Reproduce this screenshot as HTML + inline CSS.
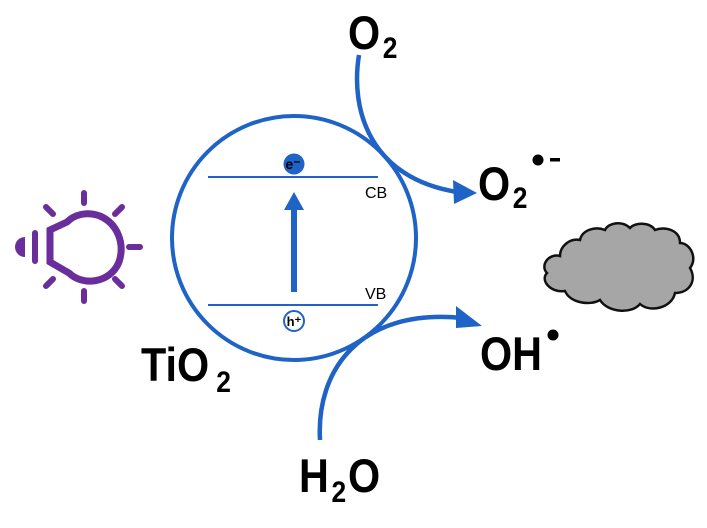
<!DOCTYPE html>
<html><head><meta charset="utf-8"><style>html,body{margin:0;padding:0;background:#fff}svg{display:block}</style></head>
<body>
<svg width="707" height="528" viewBox="0 0 707 528" xmlns="http://www.w3.org/2000/svg" font-family="Liberation Sans, sans-serif">
<!-- bulb -->
<g stroke="#6a2e9c" stroke-width="6" stroke-linecap="round" fill="none">
<path d="M50,230 L50,262 L69,273 C82,286 110,284 119,262 C125,244 118,224 100,216 C86,211 74,215 67,222 Z" stroke-width="7"/>
<line x1="84" y1="193" x2="84" y2="203"/>
<line x1="84" y1="291" x2="84" y2="301"/>
<line x1="46" y1="207" x2="53" y2="214"/>
<line x1="115" y1="214" x2="122" y2="207"/>
<line x1="46" y1="286" x2="53" y2="279"/>
<line x1="115" y1="279" x2="122" y2="286"/>
<line x1="129" y1="247" x2="140" y2="247"/>
<line x1="35" y1="233" x2="35" y2="261"/>
</g>
<path d="M25,237 A10,10 0 0 0 25,257 Z" fill="#6a2e9c"/>
<!-- cloud -->
<path transform="translate(0,8)" d="M560,248 C548,245 540,258 547,265 C540,272 550,285 565,283 C570,295 590,298 600,292 C608,305 632,306 640,296 C650,305 672,300 675,285 C690,285 697,272 690,260 C698,250 690,235 680,235 C680,222 665,218 655,222 C650,214 635,214 630,220 C622,212 608,215 605,222 C595,218 582,222 580,232 C570,230 560,238 560,248 Z" fill="#a6a6a6" stroke="#111" stroke-width="2.5"/>
<!-- main circle -->
<circle cx="294" cy="238" r="122" fill="none" stroke="#1f63c6" stroke-width="4"/>
<line x1="208" y1="177" x2="378" y2="177" stroke="#1f63c6" stroke-width="2"/>
<line x1="208" y1="305" x2="378" y2="305" stroke="#1f63c6" stroke-width="2"/>
<circle cx="294" cy="164" r="10.5" fill="#1f63c6"/>
<text x="293" y="169" font-size="14" font-weight="bold" text-anchor="middle" fill="#000">e⁻</text>
<circle cx="294" cy="321" r="10" fill="#fff" stroke="#1f63c6" stroke-width="2"/>
<text x="294" y="326" font-size="13" font-weight="bold" text-anchor="middle" fill="#000">h⁺</text>
<line x1="294" y1="292" x2="294" y2="208" stroke="#1f63c6" stroke-width="6"/>
<polygon points="284,210 304,210 294,192" fill="#1f63c6"/>
<text x="365" y="198" font-size="16" fill="#000">CB</text>
<text x="365" y="299" font-size="16" fill="#000">VB</text>
<!-- arrows -->
<path d="M359,55 C350,110 370,178 457,192" fill="none" stroke="#1f63c6" stroke-width="4.5"/>
<polygon points="453,180 477,193 454,204" fill="#1f63c6"/>
<path d="M320,440 C316,370 360,308 462,318" fill="none" stroke="#1f63c6" stroke-width="4.5"/>
<polygon points="456,306 482,326 456,328" fill="#1f63c6"/>
<!-- labels -->
<g font-weight="bold" fill="#000">
<g transform="translate(348,49) scale(0.88,1)"><text x="0" y="0" font-size="47">O<tspan font-size="30" dx="3" dy="9">2</tspan></text></g>
<g transform="translate(478,200) scale(0.88,1)"><text x="0" y="0" font-size="47">O<tspan font-size="30" dx="3" dy="8">2</tspan></text></g>
<circle cx="538" cy="160" r="5.5"/>
<rect x="550" y="158" width="10" height="3.5"/>
<g transform="translate(480,370) scale(0.88,1)"><text x="0" y="0" font-size="47">OH</text></g>
<circle cx="553" cy="335" r="5.5"/>
<g transform="translate(141,381) scale(0.88,1)"><text x="0" y="0" font-size="47">TiO<tspan font-size="30" dx="8" dy="11">2</tspan></text></g>
<g transform="translate(299,492) scale(0.88,1)"><text x="0" y="0" font-size="47">H<tspan font-size="30" dx="3" dy="10">2</tspan><tspan font-size="47" dx="2" dy="-10">O</tspan></text></g>
</g>
</svg>
</body></html>
